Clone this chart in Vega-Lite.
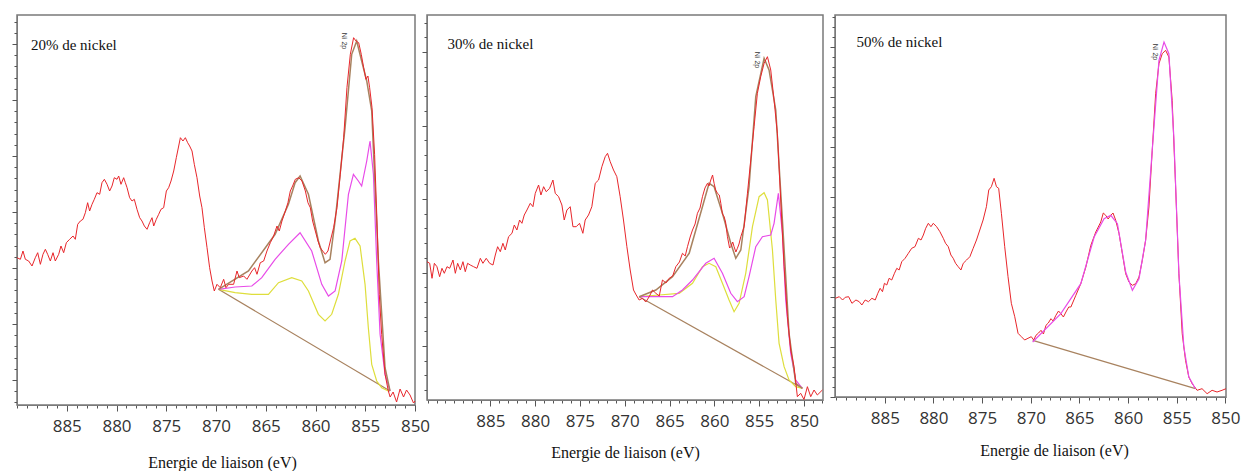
{
"$schema": "https://vega.github.io/schema/vega-lite/v6.json",
"padding": {"left": 10, "top": 14, "right": 0, "bottom": 0},
"autosize": {"type": "pad"},
"spacing": 12,
"bounds": "flush",
"config": {
  "view": {"stroke": "#7a7a7a", "strokeWidth": 1.5},
  "axis": {"grid": false, "domainColor": "#7a7a7a", "tickColor": "#555555", "domainWidth": 1}
},
"datasets": {
"p1r": [{"e":890.00,"i":147.3},{"e":889.66,"i":145.7},{"e":889.40,"i":154.0},{"e":889.16,"i":145.7},{"e":888.83,"i":144.0},{"e":888.49,"i":139.0},{"e":888.16,"i":147.3},{"e":887.92,"i":152.3},{"e":887.65,"i":140.7},{"e":887.39,"i":150.7},{"e":887.15,"i":155.7},{"e":886.92,"i":150.7},{"e":886.65,"i":144.0},{"e":886.38,"i":152.3},{"e":886.15,"i":144.0},{"e":885.81,"i":150.7},{"e":885.58,"i":159.0},{"e":885.31,"i":152.3},{"e":885.04,"i":162.3},{"e":884.71,"i":165.7},{"e":884.37,"i":169.0},{"e":884.14,"i":165.7},{"e":883.90,"i":180.7},{"e":883.63,"i":184.0},{"e":883.37,"i":185.7},{"e":883.13,"i":192.3},{"e":882.90,"i":202.3},{"e":882.70,"i":194.0},{"e":882.46,"i":200.7},{"e":882.23,"i":205.7},{"e":881.96,"i":212.3},{"e":881.69,"i":210.7},{"e":881.46,"i":222.3},{"e":881.22,"i":225.7},{"e":880.95,"i":220.7},{"e":880.69,"i":214.0},{"e":880.45,"i":219.0},{"e":880.22,"i":227.3},{"e":879.95,"i":225.7},{"e":879.78,"i":229.0},{"e":879.55,"i":220.7},{"e":879.28,"i":227.3},{"e":879.11,"i":222.3},{"e":878.94,"i":217.3},{"e":878.68,"i":207.3},{"e":878.44,"i":204.0},{"e":878.21,"i":205.7},{"e":877.94,"i":195.7},{"e":877.67,"i":187.3},{"e":877.44,"i":184.0},{"e":877.20,"i":179.0},{"e":876.93,"i":175.7},{"e":876.67,"i":182.3},{"e":876.43,"i":187.3},{"e":876.26,"i":179.0},{"e":876.00,"i":185.7},{"e":875.76,"i":190.7},{"e":875.53,"i":195.7},{"e":875.26,"i":197.3},{"e":874.99,"i":214.0},{"e":874.76,"i":217.3},{"e":874.52,"i":224.0},{"e":874.25,"i":234.0},{"e":873.99,"i":247.3},{"e":873.75,"i":259.0},{"e":873.58,"i":267.3},{"e":873.32,"i":264.0},{"e":873.08,"i":267.3},{"e":872.85,"i":262.3},{"e":872.65,"i":259.0},{"e":872.41,"i":254.0},{"e":872.18,"i":240.7},{"e":871.91,"i":227.3},{"e":871.64,"i":209.0},{"e":871.41,"i":197.3},{"e":871.17,"i":177.3},{"e":870.90,"i":157.3},{"e":870.64,"i":137.3},{"e":870.40,"i":124.0},{"e":870.17,"i":114.0},{"e":869.90,"i":120.7},{"e":869.57,"i":117.3},{"e":869.23,"i":125.7},{"e":869.00,"i":117.3},{"e":868.73,"i":120.7},{"e":868.23,"i":120.7},{"e":867.89,"i":134.0},{"e":867.66,"i":127.3},{"e":867.22,"i":129.0},{"e":866.89,"i":125.7},{"e":866.39,"i":134.0},{"e":866.12,"i":137.3},{"e":865.88,"i":130.7},{"e":865.55,"i":142.3},{"e":865.21,"i":144.0},{"e":864.88,"i":154.0},{"e":864.54,"i":162.3},{"e":864.21,"i":169.0},{"e":863.87,"i":179.0},{"e":863.64,"i":174.0},{"e":863.37,"i":184.0},{"e":863.03,"i":194.0},{"e":862.77,"i":202.3},{"e":862.53,"i":214.0},{"e":862.30,"i":219.0},{"e":862.03,"i":225.7},{"e":861.69,"i":227.3},{"e":861.36,"i":224.0},{"e":861.02,"i":214.0},{"e":860.76,"i":202.3},{"e":860.52,"i":197.3},{"e":860.29,"i":184.0},{"e":860.02,"i":174.0},{"e":859.75,"i":164.0},{"e":859.52,"i":157.3},{"e":859.28,"i":154.0},{"e":859.01,"i":150.7},{"e":858.75,"i":154.0},{"e":858.51,"i":164.0},{"e":858.18,"i":177.3},{"e":857.84,"i":197.3},{"e":857.51,"i":230.7},{"e":857.17,"i":267.3},{"e":856.84,"i":317.3},{"e":856.50,"i":350.7},{"e":856.17,"i":367.3},{"e":855.93,"i":364.0},{"e":855.66,"i":362.3},{"e":855.40,"i":350.7},{"e":855.16,"i":337.3},{"e":854.93,"i":325.7},{"e":854.73,"i":329.0},{"e":854.56,"i":317.3},{"e":854.32,"i":297.3},{"e":854.06,"i":250.7},{"e":853.82,"i":184.0},{"e":853.59,"i":110.7},{"e":853.35,"i":70.7},{"e":853.01,"i":30.7},{"e":852.68,"i":14.0},{"e":852.50,"i":8.0},{"e":852.20,"i":13.0},{"e":851.85,"i":3.0},{"e":851.50,"i":16.0},{"e":851.15,"i":8.0},{"e":850.85,"i":15.0},{"e":850.50,"i":10.0},{"e":850.15,"i":2.0},{"e":850.00,"i":4.0}],
"p1e": [{"e":869.75,"i":115.7},{"e":866.74,"i":134.0},{"e":864.06,"i":170.7},{"e":862.72,"i":200.7},{"e":862.05,"i":222.3},{"e":861.55,"i":229.0},{"e":860.71,"i":210.7},{"e":859.71,"i":164.0},{"e":859.04,"i":142.3},{"e":858.54,"i":145.7},{"e":858.03,"i":184.0},{"e":857.03,"i":277.3},{"e":856.36,"i":350.7},{"e":855.86,"i":364.0},{"e":855.36,"i":344.0},{"e":854.85,"i":324.0},{"e":854.35,"i":294.0},{"e":853.68,"i":144.0},{"e":853.01,"i":37.3},{"e":852.51,"i":14.0}],
"p1b": [{"e":869.75,"i":115.7},{"e":852.51,"i":14.0}],
"p1m": [{"e":869.75,"i":115.7},{"e":868.08,"i":118.0},{"e":866.40,"i":119.0},{"e":865.40,"i":127.3},{"e":864.06,"i":145.7},{"e":862.72,"i":160.7},{"e":861.55,"i":172.3},{"e":860.38,"i":154.0},{"e":859.37,"i":120.7},{"e":858.70,"i":109.0},{"e":858.03,"i":114.0},{"e":857.36,"i":144.0},{"e":856.69,"i":210.7},{"e":856.19,"i":230.7},{"e":855.69,"i":224.0},{"e":855.36,"i":219.0},{"e":854.85,"i":244.0},{"e":854.52,"i":264.0},{"e":854.18,"i":230.7},{"e":853.85,"i":144.0},{"e":853.51,"i":70.7},{"e":853.01,"i":30.7},{"e":852.51,"i":14.0}],
"p1y": [{"e":869.75,"i":115.7},{"e":868.08,"i":112.3},{"e":866.40,"i":110.7},{"e":864.73,"i":110.7},{"e":863.72,"i":122.3},{"e":862.39,"i":127.3},{"e":861.38,"i":124.0},{"e":860.71,"i":114.0},{"e":859.71,"i":90.7},{"e":859.04,"i":84.0},{"e":858.37,"i":90.7},{"e":857.70,"i":110.7},{"e":857.03,"i":144.0},{"e":856.53,"i":164.0},{"e":856.03,"i":166.7},{"e":855.52,"i":159.0},{"e":855.02,"i":120.7},{"e":854.69,"i":77.3},{"e":854.35,"i":40.7},{"e":853.85,"i":24.0},{"e":853.35,"i":17.3},{"e":852.68,"i":14.0}],
"p2r": [{"e":892.06,"i":138.3},{"e":891.76,"i":136.7},{"e":891.50,"i":121.7},{"e":891.24,"i":136.7},{"e":890.95,"i":133.3},{"e":890.65,"i":123.3},{"e":890.39,"i":131.7},{"e":890.13,"i":126.7},{"e":889.83,"i":133.3},{"e":889.53,"i":131.7},{"e":889.16,"i":140.0},{"e":888.90,"i":126.7},{"e":888.64,"i":136.7},{"e":888.34,"i":130.0},{"e":888.05,"i":138.3},{"e":887.79,"i":128.3},{"e":887.53,"i":136.7},{"e":887.23,"i":135.0},{"e":886.86,"i":133.3},{"e":886.49,"i":131.7},{"e":886.11,"i":141.7},{"e":885.82,"i":136.7},{"e":885.45,"i":141.7},{"e":885.07,"i":136.7},{"e":884.70,"i":135.0},{"e":884.44,"i":145.0},{"e":884.18,"i":153.3},{"e":883.88,"i":148.3},{"e":883.59,"i":156.7},{"e":883.33,"i":150.0},{"e":882.96,"i":163.3},{"e":882.58,"i":166.7},{"e":882.32,"i":175.0},{"e":882.03,"i":170.0},{"e":881.73,"i":180.0},{"e":881.47,"i":176.7},{"e":881.21,"i":185.0},{"e":880.91,"i":190.0},{"e":880.54,"i":196.7},{"e":880.24,"i":193.3},{"e":879.98,"i":206.7},{"e":879.61,"i":215.0},{"e":879.35,"i":205.0},{"e":879.05,"i":213.3},{"e":878.76,"i":208.3},{"e":878.38,"i":211.7},{"e":878.01,"i":220.0},{"e":877.75,"i":206.7},{"e":877.38,"i":203.3},{"e":877.01,"i":195.0},{"e":876.75,"i":180.0},{"e":876.45,"i":190.0},{"e":876.08,"i":193.3},{"e":875.78,"i":173.3},{"e":875.41,"i":173.3},{"e":875.04,"i":176.7},{"e":874.67,"i":166.7},{"e":874.41,"i":180.0},{"e":874.04,"i":185.0},{"e":873.67,"i":193.3},{"e":873.29,"i":216.7},{"e":872.92,"i":220.0},{"e":872.55,"i":233.3},{"e":872.18,"i":243.3},{"e":871.92,"i":246.7},{"e":871.62,"i":238.3},{"e":871.25,"i":230.0},{"e":870.88,"i":223.3},{"e":870.51,"i":203.3},{"e":870.14,"i":180.0},{"e":869.76,"i":153.3},{"e":869.39,"i":130.0},{"e":869.02,"i":110.0},{"e":868.72,"i":105.0},{"e":868.39,"i":100.0},{"e":868.02,"i":101.7},{"e":867.65,"i":98.0},{"e":867.27,"i":103.3},{"e":866.90,"i":110.0},{"e":866.53,"i":106.7},{"e":866.15,"i":104.0},{"e":865.79,"i":120.0},{"e":865.40,"i":117.0},{"e":865.04,"i":121.7},{"e":864.65,"i":124.0},{"e":864.30,"i":133.3},{"e":863.90,"i":138.0},{"e":863.56,"i":146.7},{"e":863.25,"i":144.0},{"e":863.00,"i":153.3},{"e":862.70,"i":163.0},{"e":862.44,"i":170.0},{"e":862.15,"i":176.0},{"e":861.89,"i":186.7},{"e":861.60,"i":192.0},{"e":861.33,"i":203.3},{"e":861.05,"i":212.0},{"e":860.77,"i":216.7},{"e":860.60,"i":214.0},{"e":860.40,"i":220.0},{"e":860.20,"i":225.0},{"e":860.03,"i":216.7},{"e":859.85,"i":210.0},{"e":859.66,"i":206.7},{"e":859.45,"i":205.0},{"e":859.28,"i":196.7},{"e":859.10,"i":186.0},{"e":858.91,"i":183.3},{"e":858.75,"i":178.0},{"e":858.54,"i":163.3},{"e":858.30,"i":152.0},{"e":858.17,"i":153.3},{"e":857.95,"i":158.0},{"e":857.80,"i":153.3},{"e":857.60,"i":148.0},{"e":857.43,"i":151.7},{"e":857.25,"i":156.0},{"e":857.05,"i":163.3},{"e":856.68,"i":173.3},{"e":856.31,"i":206.7},{"e":855.94,"i":240.0},{"e":855.57,"i":273.3},{"e":855.20,"i":306.7},{"e":854.83,"i":323.3},{"e":854.45,"i":336.7},{"e":854.08,"i":343.3},{"e":853.71,"i":330.0},{"e":853.34,"i":300.0},{"e":852.97,"i":266.7},{"e":852.60,"i":200.0},{"e":852.22,"i":133.3},{"e":851.85,"i":83.3},{"e":851.48,"i":50.0},{"e":851.11,"i":33.3},{"e":850.74,"i":3.3},{"e":850.37,"i":6.7},{"e":850.00,"i":0.5},{"e":849.62,"i":13.3},{"e":849.25,"i":3.3},{"e":848.88,"i":10.0},{"e":848.51,"i":5.0},{"e":847.95,"i":10.0}],
"p2e": [{"e":868.39,"i":103.3},{"e":866.53,"i":110.0},{"e":864.67,"i":123.3},{"e":862.81,"i":146.7},{"e":861.33,"i":193.3},{"e":860.59,"i":216.7},{"e":860.03,"i":213.3},{"e":859.10,"i":186.7},{"e":858.17,"i":156.7},{"e":857.61,"i":141.7},{"e":857.05,"i":150.0},{"e":856.13,"i":213.3},{"e":855.38,"i":303.3},{"e":854.45,"i":341.7},{"e":853.90,"i":330.0},{"e":853.15,"i":290.0},{"e":852.41,"i":180.0},{"e":851.67,"i":66.7},{"e":850.92,"i":16.7},{"e":850.18,"i":11.7}],
"p2b": [{"e":868.39,"i":103.3},{"e":850.18,"i":11.7}],
"p2m": [{"e":868.39,"i":103.3},{"e":866.53,"i":103.3},{"e":864.67,"i":103.3},{"e":863.56,"i":110.0},{"e":862.44,"i":120.0},{"e":860.96,"i":136.7},{"e":860.03,"i":141.7},{"e":859.10,"i":126.7},{"e":858.17,"i":106.7},{"e":857.43,"i":98.3},{"e":856.68,"i":103.3},{"e":856.13,"i":123.3},{"e":855.38,"i":153.3},{"e":854.64,"i":163.3},{"e":853.71,"i":165.0},{"e":853.34,"i":176.7},{"e":852.86,"i":206.7},{"e":852.41,"i":166.7},{"e":852.04,"i":100.0},{"e":851.48,"i":46.7},{"e":850.92,"i":20.0},{"e":850.18,"i":11.7}],
"p2y": [{"e":868.39,"i":103.3},{"e":866.16,"i":105.0},{"e":863.93,"i":106.7},{"e":862.44,"i":116.7},{"e":861.33,"i":133.3},{"e":860.59,"i":136.7},{"e":859.84,"i":133.3},{"e":859.10,"i":116.7},{"e":858.36,"i":100.0},{"e":857.80,"i":88.3},{"e":857.24,"i":96.7},{"e":856.50,"i":126.7},{"e":855.75,"i":173.3},{"e":855.01,"i":203.3},{"e":854.45,"i":207.3},{"e":854.08,"i":200.0},{"e":853.52,"i":150.0},{"e":853.15,"i":100.0},{"e":852.78,"i":56.7},{"e":852.22,"i":33.3},{"e":851.67,"i":20.0},{"e":850.92,"i":13.3},{"e":850.18,"i":11.7}],
"p3r": [{"e":890.09,"i":98.7},{"e":889.68,"i":100.3},{"e":889.34,"i":97.0},{"e":889.07,"i":99.7},{"e":888.72,"i":100.3},{"e":888.38,"i":93.7},{"e":887.97,"i":97.0},{"e":887.63,"i":95.3},{"e":887.36,"i":92.0},{"e":887.02,"i":97.0},{"e":886.68,"i":95.3},{"e":886.33,"i":98.7},{"e":885.99,"i":97.0},{"e":885.72,"i":103.7},{"e":885.48,"i":108.7},{"e":885.24,"i":105.3},{"e":885.04,"i":113.7},{"e":884.80,"i":112.0},{"e":884.56,"i":118.7},{"e":884.29,"i":117.0},{"e":884.01,"i":123.7},{"e":883.77,"i":128.7},{"e":883.53,"i":127.0},{"e":883.26,"i":135.3},{"e":882.92,"i":138.7},{"e":882.58,"i":143.7},{"e":882.24,"i":148.7},{"e":881.90,"i":150.3},{"e":881.55,"i":158.7},{"e":881.28,"i":157.0},{"e":881.04,"i":162.0},{"e":880.80,"i":168.7},{"e":880.53,"i":173.7},{"e":880.26,"i":170.3},{"e":880.02,"i":173.7},{"e":879.68,"i":170.3},{"e":879.34,"i":165.3},{"e":878.99,"i":158.7},{"e":878.76,"i":153.7},{"e":878.48,"i":150.3},{"e":878.21,"i":142.0},{"e":877.97,"i":138.7},{"e":877.73,"i":133.7},{"e":877.46,"i":130.3},{"e":877.18,"i":127.0},{"e":876.94,"i":133.7},{"e":876.60,"i":137.0},{"e":876.26,"i":140.3},{"e":875.92,"i":148.7},{"e":875.58,"i":157.0},{"e":875.24,"i":167.0},{"e":874.90,"i":177.0},{"e":874.56,"i":190.3},{"e":874.32,"i":207.0},{"e":874.05,"i":210.3},{"e":873.77,"i":218.7},{"e":873.53,"i":210.3},{"e":873.30,"i":208.7},{"e":873.02,"i":183.7},{"e":872.68,"i":150.3},{"e":872.34,"i":120.3},{"e":872.00,"i":93.7},{"e":871.65,"i":80.3},{"e":871.31,"i":63.7},{"e":870.97,"i":60.3},{"e":870.63,"i":57.0},{"e":870.29,"i":58.7},{"e":869.95,"i":60.3},{"e":869.70,"i":57.0},{"e":869.47,"i":61.7},{"e":869.20,"i":64.0},{"e":868.95,"i":66.7},{"e":868.70,"i":63.0},{"e":868.44,"i":71.7},{"e":868.20,"i":74.0},{"e":867.93,"i":78.3},{"e":867.70,"i":76.0},{"e":867.42,"i":81.7},{"e":867.15,"i":86.0},{"e":866.91,"i":83.3},{"e":866.65,"i":80.0},{"e":866.39,"i":85.0},{"e":866.10,"i":90.0},{"e":865.88,"i":90.0},{"e":865.37,"i":101.7},{"e":864.86,"i":113.3},{"e":864.34,"i":130.0},{"e":863.83,"i":151.7},{"e":863.32,"i":165.0},{"e":862.81,"i":175.0},{"e":862.55,"i":184.0},{"e":862.30,"i":181.7},{"e":862.05,"i":178.0},{"e":861.78,"i":181.7},{"e":861.55,"i":184.0},{"e":861.27,"i":176.7},{"e":860.93,"i":163.3},{"e":860.59,"i":143.3},{"e":860.25,"i":123.3},{"e":859.91,"i":115.0},{"e":859.56,"i":111.7},{"e":859.22,"i":113.3},{"e":858.88,"i":120.0},{"e":858.54,"i":136.7},{"e":858.20,"i":156.7},{"e":857.86,"i":190.0},{"e":857.52,"i":246.7},{"e":857.17,"i":303.3},{"e":856.83,"i":333.3},{"e":856.49,"i":343.3},{"e":856.15,"i":346.7},{"e":855.81,"i":340.0},{"e":855.47,"i":296.7},{"e":855.13,"i":213.3},{"e":854.78,"i":123.3},{"e":854.44,"i":63.3},{"e":854.10,"i":36.7},{"e":853.76,"i":20.0},{"e":853.42,"i":13.3},{"e":852.91,"i":6.7},{"e":852.40,"i":8.3},{"e":851.88,"i":3.3},{"e":851.37,"i":6.7},{"e":850.86,"i":5.0},{"e":850.35,"i":6.7},{"e":849.94,"i":8.3}],
"p3m": [{"e":869.81,"i":55.0},{"e":866.91,"i":83.3},{"e":864.86,"i":113.3},{"e":863.49,"i":160.0},{"e":862.47,"i":178.3},{"e":861.78,"i":181.7},{"e":861.10,"i":173.3},{"e":860.25,"i":125.0},{"e":859.56,"i":106.7},{"e":858.88,"i":118.3},{"e":858.20,"i":156.7},{"e":857.52,"i":246.7},{"e":856.83,"i":336.7},{"e":856.31,"i":355.0},{"e":855.81,"i":343.3},{"e":855.30,"i":260.0},{"e":854.78,"i":123.3},{"e":854.27,"i":50.0},{"e":853.76,"i":20.0},{"e":853.08,"i":8.3}],
"p3b": [{"e":869.80,"i":56.7},{"e":853.08,"i":8.3}]
},
"hconcat": [
{
  "width": 398, "height": 390,
  "layer": [
    {"data": {"name": "p1b"}, "mark": {"type": "line", "color": "#a8825f", "strokeWidth": 1.2},
     "encoding": {
       "x": {"field": "e", "type": "quantitative", "scale": {"domain": [850, 890], "reverse": true, "nice": false, "zero": false},
             "axis": {"orient": "bottom", "values": [850,851,852,853,854,855,856,857,858,859,860,861,862,863,864,865,866,867,868,869,870,871,872,873,874,875,876,877,878,879,880,881,882,883,884,885,886,887,888,889,890], "tickSize": 3, "labels": false, "domain": false, "title": null}},
       "y": {"field": "i", "type": "quantitative", "scale": {"domain": [0, 390], "nice": false, "zero": false},
             "axis": {"orient": "left", "values": [2.6,13.8,36.2,47.4,58.6,69.8,92.2,103.4,114.6,125.8,148.2,159.4,170.6,181.8,204.2,215.4,226.6,237.8,260.2,271.4,282.6,293.8,316.2,327.4,338.6,349.8,372.2,383.4], "tickSize": 3, "labels": false, "domain": false, "title": null}}}},
    {"data": {"name": "p1y"}, "mark": {"type": "line", "color": "#dede3c", "strokeWidth": 1.2},
     "encoding": {"x": {"field": "e", "type": "quantitative", "axis": null}, "y": {"field": "i", "type": "quantitative", "axis": null}}},
    {"data": {"name": "p1m"}, "mark": {"type": "line", "color": "#e84be8", "strokeWidth": 1.2},
     "encoding": {"x": {"field": "e", "type": "quantitative", "axis": null}, "y": {"field": "i", "type": "quantitative", "axis": null}}},
    {"data": {"name": "p1e"}, "mark": {"type": "line", "color": "#a8825f", "strokeWidth": 1.5},
     "encoding": {"x": {"field": "e", "type": "quantitative", "axis": null}, "y": {"field": "i", "type": "quantitative", "axis": null}}},
    {"data": {"name": "p1r"}, "mark": {"type": "line", "color": "#e8262b", "strokeWidth": 1},
     "encoding": {
       "x": {"field": "e", "type": "quantitative",
             "axis": {"orient": "bottom", "values": [885,880,875,870,865,860,855,850], "tickSize": 6, "labelFont": "Open Sans", "labelFontSize": 17, "labelColor": "#333333", "labelPadding": 7, "labelFlush": false, "labelOverlap": false, "title": "Energie de liaison (eV)", "titleFont": "Liberation Serif", "titleFontSize": 16, "titleFontWeight": "normal", "titleColor": "#111111", "titlePadding": 20, "titleX": 205}},
       "y": {"field": "i", "type": "quantitative",
             "axis": {"orient": "left", "values": [25,81,137,193,249,305,361], "tickSize": 5, "labels": false, "title": null}}}},
    {"data": {"values": [{"e": 888.6, "i": 360, "t": "20% de nickel"}]}, "mark": {"type": "text", "align": "left", "baseline": "middle", "font": "Liberation Serif", "fontSize": 15, "color": "#111111"},
     "encoding": {"x": {"field": "e", "type": "quantitative", "axis": null}, "y": {"field": "i", "type": "quantitative", "axis": null}, "text": {"field": "t"}}},
    {"data": {"values": [{"e": 857.1, "i": 364, "t": "Ni 2p"}]}, "mark": {"type": "text", "align": "center", "baseline": "middle", "angle": 90, "font": "Liberation Sans", "fontSize": 7, "color": "#333333"},
     "encoding": {"x": {"field": "e", "type": "quantitative", "axis": null}, "y": {"field": "i", "type": "quantitative", "axis": null}, "text": {"field": "t"}}}
  ],
  "resolve": {"axis": {"x": "independent", "y": "independent"}}
},
{
  "width": 396, "height": 385,
  "layer": [
    {"data": {"name": "p2b"}, "mark": {"type": "line", "color": "#a8825f", "strokeWidth": 1.2},
     "encoding": {
       "x": {"field": "e", "type": "quantitative", "scale": {"domain": [847.88, 892.06], "reverse": true, "nice": false, "zero": false},
             "axis": {"orient": "bottom", "values": [848,849,850,851,852,853,854,855,856,857,858,859,860,861,862,863,864,865,866,867,868,869,870,871,872,873,874,875,876,877,878,879,880,881,882,883,884,885,886,887,888,889,890,891,892], "tickSize": 3, "labels": false, "domain": false, "title": null}},
       "y": {"field": "i", "type": "quantitative", "scale": {"domain": [0, 385], "nice": false, "zero": false},
             "axis": {"orient": "left", "values": [9.9,24.6,39.3,68.7,83.4,98.1,112.8,142.2,156.9,171.6,186.3,215.7,230.4,245.1,259.8,289.2,303.9,318.6,333.3,362.7,377.4], "tickSize": 3, "labels": false, "domain": false, "title": null}}}},
    {"data": {"name": "p2y"}, "mark": {"type": "line", "color": "#dede3c", "strokeWidth": 1.2},
     "encoding": {"x": {"field": "e", "type": "quantitative", "axis": null}, "y": {"field": "i", "type": "quantitative", "axis": null}}},
    {"data": {"name": "p2m"}, "mark": {"type": "line", "color": "#e84be8", "strokeWidth": 1.2},
     "encoding": {"x": {"field": "e", "type": "quantitative", "axis": null}, "y": {"field": "i", "type": "quantitative", "axis": null}}},
    {"data": {"name": "p2e"}, "mark": {"type": "line", "color": "#a8825f", "strokeWidth": 1.5},
     "encoding": {"x": {"field": "e", "type": "quantitative", "axis": null}, "y": {"field": "i", "type": "quantitative", "axis": null}}},
    {"data": {"name": "p2r"}, "mark": {"type": "line", "color": "#e8262b", "strokeWidth": 1},
     "encoding": {
       "x": {"field": "e", "type": "quantitative",
             "axis": {"orient": "bottom", "values": [885,880,875,870,865,860,855,850], "tickSize": 6, "labelFont": "Open Sans", "labelFontSize": 17, "labelColor": "#333333", "labelPadding": 7, "labelFlush": false, "labelOverlap": false, "title": "Energie de liaison (eV)", "titleFont": "Liberation Serif", "titleFontSize": 16, "titleFontWeight": "normal", "titleColor": "#111111", "titlePadding": 15}},
       "y": {"field": "i", "type": "quantitative",
             "axis": {"orient": "left", "values": [54,127.5,201,274.5,348], "tickSize": 5, "labels": false, "title": null}}}},
    {"data": {"values": [{"e": 889.76, "i": 356, "t": "30% de nickel"}]}, "mark": {"type": "text", "align": "left", "baseline": "middle", "font": "Liberation Serif", "fontSize": 15, "color": "#111111"},
     "encoding": {"x": {"field": "e", "type": "quantitative", "axis": null}, "y": {"field": "i", "type": "quantitative", "axis": null}, "text": {"field": "t"}}},
    {"data": {"values": [{"e": 855.2, "i": 340, "t": "Ni 2p"}]}, "mark": {"type": "text", "align": "center", "baseline": "middle", "angle": 90, "font": "Liberation Sans", "fontSize": 7, "color": "#333333"},
     "encoding": {"x": {"field": "e", "type": "quantitative", "axis": null}, "y": {"field": "i", "type": "quantitative", "axis": null}, "text": {"field": "t"}}}
  ],
  "resolve": {"axis": {"x": "independent", "y": "independent"}}
},
{
  "width": 391, "height": 382,
  "layer": [
    {"data": {"name": "p3b"}, "mark": {"type": "line", "color": "#a8825f", "strokeWidth": 1.2},
     "encoding": {
       "x": {"field": "e", "type": "quantitative", "scale": {"domain": [849.94, 890.12], "reverse": true, "nice": false, "zero": false},
             "axis": {"orient": "bottom", "values": [850,851,852,853,854,855,856,857,858,859,860,861,862,863,864,865,866,867,868,869,870,871,872,873,874,875,876,877,878,879,880,881,882,883,884,885,886,887,888,889,890], "tickSize": 3, "labels": false, "domain": false, "title": null}},
       "y": {"field": "i", "type": "quantitative", "scale": {"domain": [0, 382], "nice": false, "zero": false},
             "axis": {"orient": "left", "values": [10,20,30,40,60,70,80,90,110,120,130,140,160,170,180,190,210,220,230,240,260,270,280,290,310,320,330,340,360,370,380], "tickSize": 3, "labels": false, "domain": false, "title": null}}}},
    {"data": {"name": "p3r"}, "mark": {"type": "line", "color": "#e8262b", "strokeWidth": 1},
     "encoding": {
       "x": {"field": "e", "type": "quantitative",
             "axis": {"orient": "bottom", "values": [885,880,875,870,865,860,855,850], "tickSize": 6, "labelFont": "Open Sans", "labelFontSize": 17, "labelColor": "#333333", "labelPadding": 7, "labelFlush": false, "labelOverlap": false, "title": "Energie de liaison (eV)", "titleFont": "Liberation Serif", "titleFontSize": 16, "titleFontWeight": "normal", "titleColor": "#111111", "titlePadding": 16, "titleX": 219}},
       "y": {"field": "i", "type": "quantitative",
             "axis": {"orient": "left", "values": [0,50,100,150,200,250,300,350], "tickSize": 5, "labels": false, "title": null}}}},
    {"data": {"name": "p3m"}, "mark": {"type": "line", "color": "#e84be8", "strokeWidth": 1.2},
     "encoding": {"x": {"field": "e", "type": "quantitative", "axis": null}, "y": {"field": "i", "type": "quantitative", "axis": null}}},
    {"data": {"values": [{"e": 887.9, "i": 355, "t": "50% de nickel"}]}, "mark": {"type": "text", "align": "left", "baseline": "middle", "font": "Liberation Serif", "fontSize": 15, "color": "#111111"},
     "encoding": {"x": {"field": "e", "type": "quantitative", "axis": null}, "y": {"field": "i", "type": "quantitative", "axis": null}, "text": {"field": "t"}}},
    {"data": {"values": [{"e": 857.2, "i": 345, "t": "Ni 2p"}]}, "mark": {"type": "text", "align": "center", "baseline": "middle", "angle": 90, "font": "Liberation Sans", "fontSize": 7, "color": "#333333"},
     "encoding": {"x": {"field": "e", "type": "quantitative", "axis": null}, "y": {"field": "i", "type": "quantitative", "axis": null}, "text": {"field": "t"}}}
  ],
  "resolve": {"axis": {"x": "independent", "y": "independent"}}
}
]
}
